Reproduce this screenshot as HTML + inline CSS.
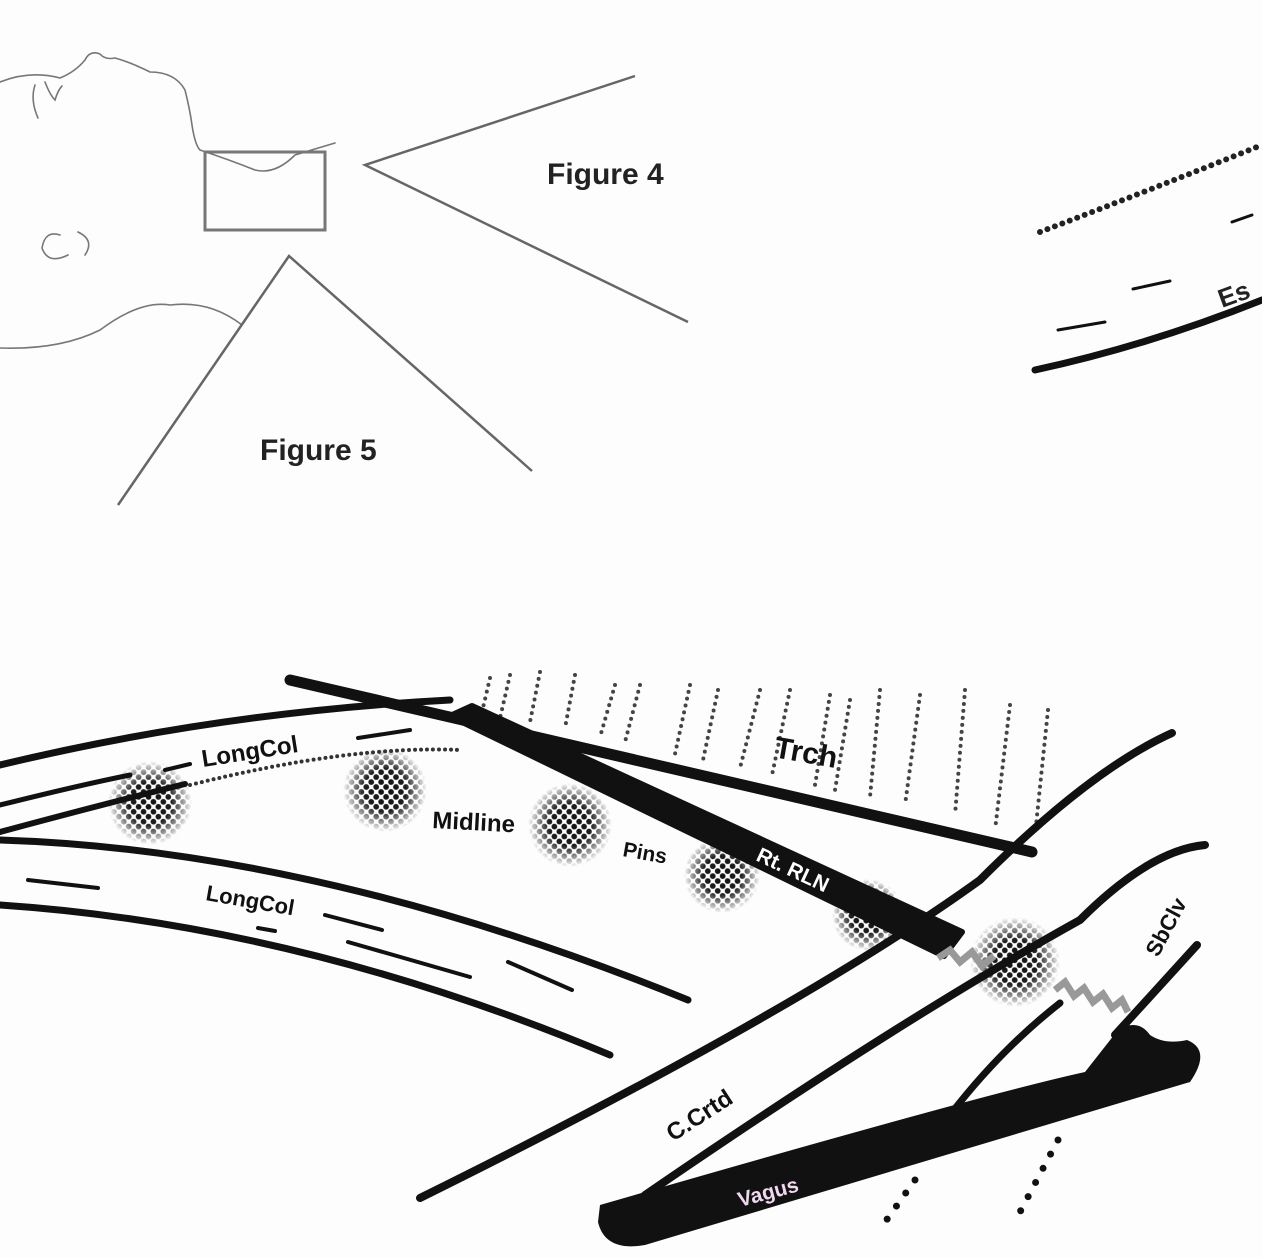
<!DOCTYPE html>
<html><head><meta charset="utf-8"><style>
html,body{margin:0;padding:0;background:#fdfdfd;}
svg{display:block;}
text{font-family:"Liberation Sans",sans-serif;font-weight:bold;}
</style></head><body>
<svg width="1262" height="1258" viewBox="0 0 1262 1258" xmlns="http://www.w3.org/2000/svg">
<defs>
<pattern id="dots" width="7" height="7" patternUnits="userSpaceOnUse" patternTransform="rotate(45)">
<circle cx="3.5" cy="3.5" r="2.9" fill="#111"/>
</pattern>
<radialGradient id="rg"><stop offset="0" stop-color="#fff" stop-opacity="1"/><stop offset="0.5" stop-color="#fff" stop-opacity="0.95"/><stop offset="1" stop-color="#fff" stop-opacity="0"/></radialGradient>
<mask id="m1" maskUnits="userSpaceOnUse" x="0" y="0" width="1262" height="1258">
<circle cx="150" cy="803" r="42" fill="url(#rg)"/>
<circle cx="385" cy="790" r="42" fill="url(#rg)"/>
<circle cx="570" cy="825" r="42" fill="url(#rg)"/>
<circle cx="722" cy="875" r="38" fill="url(#rg)"/>
<circle cx="868" cy="915" r="36" fill="url(#rg)"/>
<circle cx="1015" cy="962" r="45" fill="url(#rg)"/>
</mask>
</defs>
<rect width="1262" height="1258" fill="#fdfdfd"/>

<g fill="none" stroke="#777" stroke-width="1.6" stroke-linecap="round">
<path d="M0,82 Q30,70 60,78 Q75,72 85,60 Q90,50 100,54 Q105,60 115,58 Q130,62 150,72 Q175,72 185,90 Q190,110 192,125 Q195,145 200,150 Q230,160 255,170 Q275,175 295,155 L335,143"/>
<path d="M35,85 Q30,100 38,118 M45,82 Q50,95 55,100 Q58,90 62,86"/>
<path d="M60,235 Q45,230 42,248 Q48,265 68,255 M78,232 Q95,240 85,255"/>
<path d="M0,348 Q60,350 100,330 Q140,300 170,305 Q210,300 242,325"/>
</g>
<rect x="205" y="152" width="120" height="78" fill="none" stroke="#777" stroke-width="3"/>
<g fill="none" stroke="#666" stroke-width="2.5">
<polyline points="635,76 365,165 688,322"/>
<polyline points="118,505 289,256 532,471"/>
</g>
<text x="547" y="184" font-size="30" fill="#222">Figure 4</text>
<text x="260" y="460" font-size="30" fill="#222">Figure 5</text>

<path d="M1040,232 Q1150,190 1262,145" fill="none" stroke="#222" stroke-width="6" stroke-dasharray="0 8" stroke-linecap="round"/>
<g stroke="#111" stroke-width="3" stroke-linecap="round">
<line x1="1232" y1="222" x2="1252" y2="215"/>
<line x1="1133" y1="289" x2="1170" y2="281"/>
<line x1="1058" y1="330" x2="1105" y2="322"/>
</g>
<path d="M1035,370 Q1150,345 1262,300" fill="none" stroke="#111" stroke-width="7" stroke-linecap="round"/>
<text x="1222" y="308" font-size="26" fill="#222" transform="rotate(-20 1222 308)">Es</text>

<rect width="1262" height="1258" fill="url(#dots)" mask="url(#m1)"/>

<g stroke="#444" stroke-width="4" stroke-dasharray="0 7" stroke-linecap="round" fill="none">
<line x1="490" y1="678" x2="482" y2="712"/><line x1="510" y1="675" x2="500" y2="718"/>
<line x1="540" y1="672" x2="530" y2="722"/><line x1="575" y1="675" x2="565" y2="728"/>
<line x1="615" y1="685" x2="600" y2="737"/><line x1="640" y1="685" x2="625" y2="742"/>
<line x1="690" y1="685" x2="675" y2="754"/><line x1="718" y1="690" x2="703" y2="760"/>
<line x1="760" y1="690" x2="740" y2="768"/><line x1="790" y1="690" x2="772" y2="775"/>
<line x1="830" y1="695" x2="815" y2="785"/><line x1="850" y1="700" x2="835" y2="790"/>
<line x1="880" y1="690" x2="870" y2="797"/><line x1="920" y1="695" x2="905" y2="805"/>
<line x1="965" y1="690" x2="955" y2="815"/><line x1="1010" y1="705" x2="995" y2="830"/>
<line x1="1048" y1="710" x2="1035" y2="835"/>
</g>
<text x="773" y="757" font-size="30" fill="#111" transform="rotate(10 773 757)">Trch</text>

<g fill="none" stroke="#111" stroke-linecap="round">
<path d="M0,765 Q220,712 450,700" stroke-width="7"/>
<path d="M0,805 Q80,785 130,775" stroke-width="5"/>
<path d="M0,832 Q100,805 185,784" stroke-width="6"/>
<line x1="165" y1="770" x2="190" y2="764" stroke-width="4"/>
<line x1="358" y1="738" x2="410" y2="730" stroke-width="4"/>
<path d="M0,840 Q320,850 688,1000" stroke-width="7"/>
<path d="M0,905 Q300,925 610,1055" stroke-width="7"/>
<line x1="28" y1="880" x2="98" y2="888" stroke-width="4"/>
<line x1="325" y1="915" x2="382" y2="930" stroke-width="4"/>
<line x1="258" y1="928" x2="275" y2="931" stroke-width="4"/>
<line x1="348" y1="942" x2="470" y2="977" stroke-width="4"/>
<line x1="508" y1="962" x2="572" y2="990" stroke-width="4"/>
<path d="M290,680 L1032,852" stroke-width="11"/>
<path d="M420,1198 Q800,1010 980,880 Q1090,770 1172,733" stroke-width="8"/>
<path d="M645,1195 Q900,1020 1080,920 Q1150,850 1205,845" stroke-width="8"/>
<path d="M1060,1003 Q1000,1050 950,1115" stroke-width="7"/>
<path d="M1197,945 L1115,1035" stroke-width="8"/>
</g>
<path d="M190,785 Q350,745 460,750" fill="none" stroke="#333" stroke-width="4" stroke-dasharray="0 6" stroke-linecap="round"/>
<!-- RLN -->
<path d="M450,716 L472,706 L962,932 L944,956 Z" fill="#111" stroke="#111" stroke-width="6" stroke-linejoin="round"/>
<path d="M938,958 L950,950 L960,962 L972,952 L982,966 L994,956 M1055,990 L1065,982 L1074,996 L1084,988 L1093,1002 L1103,994 L1112,1008 L1122,1000 L1128,1012" fill="none" stroke="#999" stroke-width="7"/>
<path d="M598,1222 Q605,1252 645,1245 L1190,1082 Q1212,1050 1187,1040 Q1165,1045 1150,1035 Q1138,1018 1118,1030 L1085,1072 Q980,1095 600,1205 Z" fill="#111"/>
<g stroke="#111" stroke-width="7" stroke-dasharray="0 16" stroke-linecap="round" fill="none">
<line x1="915" y1="1180" x2="878" y2="1232"/>
<line x1="1058" y1="1140" x2="1020" y2="1212"/>
</g>

<text x="203" y="767" font-size="24" fill="#111" transform="rotate(-9 203 767)">LongCol</text>
<text x="432" y="828" font-size="24" fill="#111" transform="rotate(3 432 828)">Midline</text>
<text x="622" y="856" font-size="21" fill="#111" transform="rotate(10 622 856)">Pins</text>
<text x="205" y="900" font-size="22" fill="#111" transform="rotate(10 205 900)">LongCol</text>
<text x="755" y="860" font-size="21" fill="#fff" transform="rotate(25 755 860)">Rt. RLN</text>
<text x="673" y="1142" font-size="24" fill="#111" transform="rotate(-33 673 1142)">C.Crtd</text>
<text x="740" y="1207" font-size="21" fill="#f0d8f0" transform="rotate(-15 740 1207)">Vagus</text>
<text x="1158" y="958" font-size="22" fill="#111" transform="rotate(-62 1158 958)">SbClv</text>
</svg>
</body></html>
